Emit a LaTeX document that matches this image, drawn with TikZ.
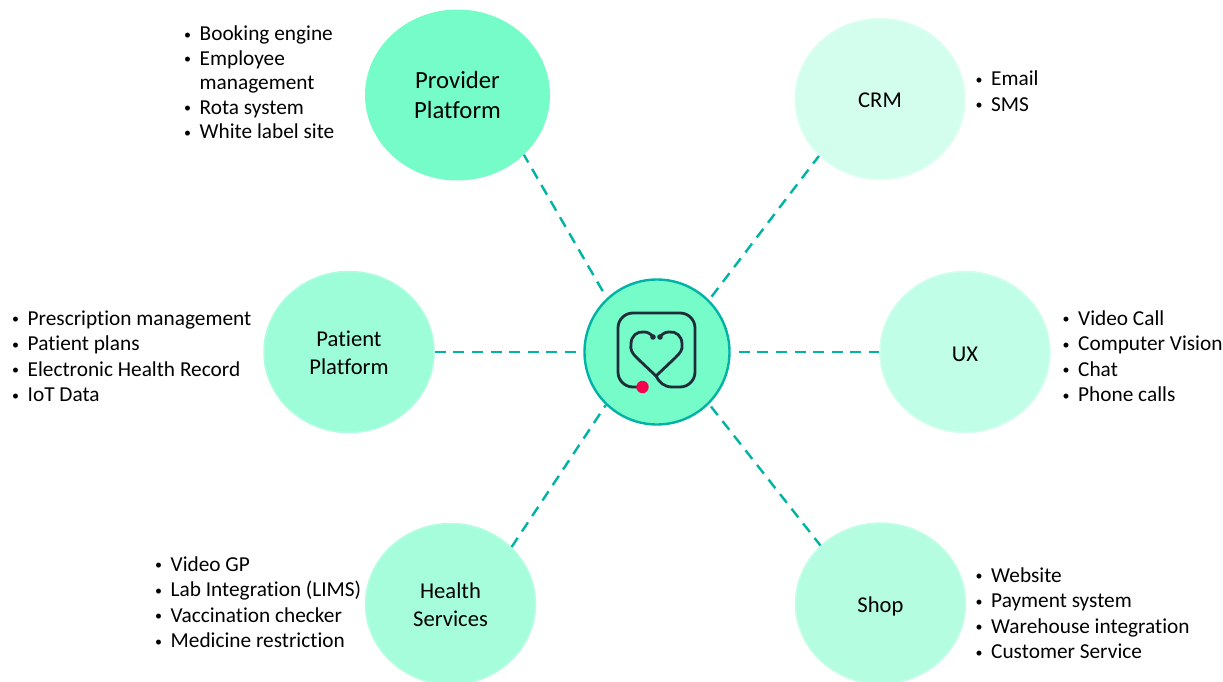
\documentclass[tikz,border=0pt]{standalone}
\usepackage{fontspec}
\setmainfont[Ligatures=NoCommon]{Carlito}
\usetikzlibrary{shapes.geometric}
\definecolor{hubfill}{HTML}{76FCC9}
\definecolor{hubline}{HTML}{00B3A4}
\definecolor{icondark}{HTML}{1F2D3A}
\definecolor{icondot}{HTML}{F5004F}
\newcommand{\bitem}[1]{\makebox[15.5pt][l]{\raisebox{1.5pt}{\fontsize{14}{14}\selectfont •}}#1}
\newcommand{\bcont}[1]{\hspace*{15.5pt}#1}
\newcommand{\lowered}[2]{\raisebox{-#1}[\height][\depth]{#2}}
\tikzset{
    bubble/.style={ellipse, inner sep=0pt, align=center, minimum width=170pt, minimum height=161pt, font=\fontsize{22.6}{28}\selectfont},
    link/.style={draw=hubline, line width=2.4pt, dash pattern=on 11pt off 7.6pt},
    bulletlist/.style={anchor=north west, inner sep=0pt, align=left, font=\fontsize{21.3}{25.4}\selectfont},
    iconline/.style={draw=icondark, line width=2.8pt, line cap=round, line join=round}
}
\begin{document}
\begin{tikzpicture}[x=1pt,y=-1pt]
    \useasboundingbox (0,0) rectangle (1223,682);
    % bubbles
    \node[bubble, fill=hubfill, minimum width=185pt, minimum height=171pt, font=\fontsize{24.7}{29.5}\selectfont] (provider) at (457.5,95) {Provider\\Platform};
    \node[bubble, fill=hubfill!32!white, draw=hubfill!22!white, line width=1.5pt] (crm) at (880,99) {\lowered{1pt}{CRM}};
    \node[bubble, fill=hubfill!45!white, draw=hubfill!32!white, line width=1.5pt] (ux) at (965,352) {\lowered{2pt}{UX}};
    \node[bubble, fill=hubfill!72!white, draw=hubfill!60!white, line width=1.5pt] (patient) at (349,352) {\lowered{1pt}{Patient}\\\lowered{1pt}{Platform}};
    \node[bubble, fill=hubfill!65!white, draw=hubfill!52!white, line width=1.5pt] (health) at (450.5,604) {\lowered{1pt}{Health}\\\lowered{1pt}{Services}};
    \node[bubble, fill=hubfill!55!white, draw=hubfill!42!white, line width=1.5pt] (shop) at (880.5,603.5) {\lowered{3pt}{Shop}};
    \node[circle, fill=hubfill, draw=hubline, line width=2.4pt, minimum size=145pt, inner sep=0pt] (hub) at (657,352) {};
    % connectors
    \draw[link, shorten <=8pt] (hub.133) -- (provider.-42.5);
    \draw[link, shorten <=4pt] (hub.45) -- (crm.223);
    \draw[link] (patient.0) -- (hub.180);
    \draw[link, shorten <=8pt] (hub.0) -- (ux.180);
    \draw[link] (health.43.4) -- (hub.226.6);
    \draw[link, shorten <=3pt] (hub.-45.4) -- (shop.136.8);
    % icon
    \coordinate (iconstart) at (642.5,387);
    \draw[iconline] (iconstart) -- (633,387) arc[start angle=90, end angle=180, radius=15]
        -- (618,328) arc[start angle=180, end angle=270, radius=15]
        -- (680,313) arc[start angle=270, end angle=360, radius=15]
        -- (695,372) arc[start angle=0, end angle=90, radius=15]
        -- (672,387) .. controls (664,387) and (659,382) .. (656,376)
        -- (675,358) .. controls (680,353) and (683,350) .. (682,344)
        .. controls (682,336) and (676,331) .. (669,332) .. controls (665,332) and (662,334) .. (660,337);
    \draw[iconline] (656,376) -- (637,358) .. controls (632,353) and (630,350) .. (631,344)
        .. controls (631,336) and (637,331) .. (644,332) .. controls (648,332) and (651,334) .. (653,337);
    \fill[icondark] (653,337) circle (2.8) (660,337) circle (2.8);
    \fill[icondot] (iconstart) circle (6.2);
    % lists
    \node[bulletlist, font=\fontsize{21.3}{24.5}\selectfont] (providerlist) at (184,26) {\bitem{Booking engine}\\\bitem{Employee}\\\bcont{management}\\\bitem{Rota system}\\\bitem{White label site}};
    \node[bulletlist] (crmlist) at (975.5,71) {\bitem{Email}\\\bitem{SMS}};
    \node[bulletlist] (patientlist) at (12,310.5) {\bitem{Prescription management}\\\bitem{Patient plans}\\\bitem{Electronic Health Record}\\\bitem{IoT Data}};
    \node[bulletlist] (uxlist) at (1062.5,310.5) {\bitem{Video Call}\\\bitem{Computer Vision}\\\bitem{Chat}\\\bitem{Phone calls}};
    \node[bulletlist] (healthlist) at (155,556.5) {\bitem{Video GP}\\\bitem{Lab Integration (LIMS)}\\\bitem{Vaccination checker}\\\bitem{Medicine restriction}};
    \node[bulletlist] (shoplist) at (975.5,567.5) {\bitem{Website}\\\bitem{Payment system}\\\bitem{Warehouse integration}\\\bitem{Customer Service}};
\end{tikzpicture}
\end{document}
